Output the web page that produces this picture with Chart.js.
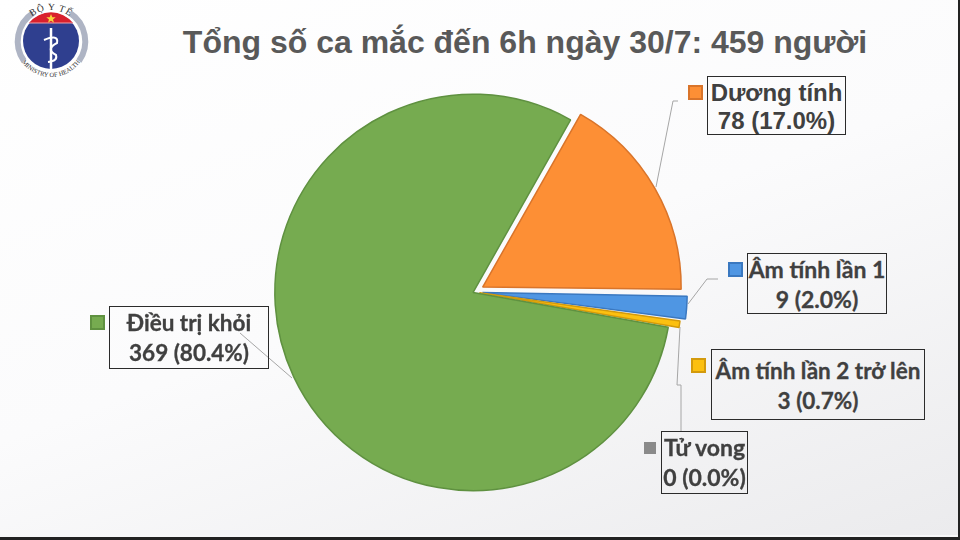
<!DOCTYPE html>
<html>
<head>
<meta charset="utf-8">
<style>
  html, body { margin: 0; padding: 0; }
  body { width: 960px; height: 540px; overflow: hidden; position: relative;
    font-family: "Liberation Sans", sans-serif; background: #222; }
  #page { position: absolute; left: 0; top: 0; width: 958px; height: 537px; box-sizing: border-box;
    border-bottom: 2px solid #f7f7f8;
    background: linear-gradient(160deg, #ffffff 0%, #fbfbfc 50%, #ebebed 100%); }
  #wrap { position: absolute; left: 256px; top: 74px; width: 436px; height: 436px; }
  #title { position: absolute; left: 170px; top: 24px; width: 710px; text-align: center;
    font-size: 32px; font-weight: bold; color: #595959; white-space: nowrap; }
  .lbl { position: absolute; box-sizing: border-box; border: 1.5px solid #2b2b2b; text-align: center;
    font-family: Lato, "Liberation Sans", sans-serif; -webkit-text-stroke: 0.3px #404040;
    font-weight: bold; line-height: 30px; color: #404040; white-space: nowrap; }
  .lbl.first { font-family: "Liberation Sans", sans-serif; line-height: 28px; -webkit-text-stroke: 0; }
  .key { position: absolute; box-sizing: border-box; border: 2px solid; }
  #logo, #leaders { position: absolute; left: 0; top: 0; }
</style>
</head>
<body>
<div id="page"></div>
<svg id="logo" width="100" height="90">
  <defs>
    <path id="arcTop" d="M20 41 A31 31 0 0 1 82 41"/>
    <path id="arcBottom" d="M15 41 A36 36 0 0 0 87 41"/>
  </defs>
  <path d="M33 13 A34 34 0 0 0 24 61" fill="none" stroke="#aeb4c4" stroke-width="6"/>
  <path d="M70 13 A34 34 0 0 1 79 61" fill="none" stroke="#aeb4c4" stroke-width="6"/>
  <circle cx="51" cy="41" r="28" fill="#2f3f8f"/>
  <path d="M29 23 A28 28 0 0 1 73 23 Z" fill="#d9202c"/>
  <path d="M29 23 H73" stroke="#f0a0a8" stroke-width="1"/>
  <path d="M51 14 l1.3 3.2 3.4 0 -2.7 2.2 1 3.4 -3 -2 -3 2 1 -3.4 -2.7 -2.2 3.4 0 z" fill="#f7d33c"/>
  <path d="M51 28 V69" stroke="#fff" stroke-width="2.5"/>
  <path d="M44 40 Q59 34 57 43 Q45 49 56 55 Q58 61 48 62" fill="none" stroke="#fff" stroke-width="2"/>
  <text font-family="Liberation Serif" font-size="9.5" fill="#333" text-anchor="middle" letter-spacing="0.8"><textPath href="#arcTop" startOffset="50%">BỘ Y TẾ</textPath></text>
  <text font-family="Liberation Serif" font-size="6.5" fill="#333" text-anchor="middle"><textPath href="#arcBottom" startOffset="50%">MINISTRY OF HEALTH</textPath></text>
</svg>
<svg id="leaders" width="960" height="540"></svg>
<div id="title"></div>
<div id="wrap"><canvas id="pie"></canvas></div>
<script src="https://cdn.jsdelivr.net/npm/chart.js"></script>
<script>
const categories = ["Dương tính", "Âm tính lần 1", "Âm tính lần 2 trở lên", "Tử vong", "Điều trị khỏi"];
const cases = [78, 9, 3, 0, 369];
const percents = ["17.0%", "2.0%", "0.7%", "0.0%", "80.4%"];
const titleText = "Tổng số ca mắc đến 6h ngày 30/7: 459 người";

const fills = ["#fd8f35", "#4f96e3", "#fcc010", "#8a8a8a", "#76ab50"];
const edges = ["#d9742a", "#3a78c0", "#d39a0c", "#8a8a8a", "#5f9140"];
// chart.js moves an arc by offset / 4, thin arcs also grow by about that much
const offsets = [40, 34, 22, 0, 4];

// label box x, y, w, h, top padding, font size, then legend key x, y, size
const boxes = [
  [707, 76, 139, 59, 2, 24, 688, 85, 15],
  [747, 253, 140, 61, 0, 23, 728, 262, 15],
  [711, 349, 214, 71, 6, 22.5, 691, 358, 15],
  [661, 431, 87, 63, 0, 23, 644, 442, 12],
  [109, 306, 160, 63, 1, 22.5, 90, 315, 15],
];
const leaders = [
  "M678 101 H673 L656 187",
  "M718 279 H707 L688 304",
  "M680 327 L677 385 H681 V431",
  "M240 333 L292 378",
];

document.getElementById("title").textContent = titleText;

categories.forEach((c, i) => {
  const b = boxes[i];
  const d = document.createElement("div");
  d.className = i === 0 ? "lbl first" : "lbl";
  d.style.cssText = `left:${b[0]}px;top:${b[1]}px;width:${b[2]}px;height:${b[3]}px;padding-top:${b[4]}px;font-size:${b[5]}px`;
  d.innerHTML = `${c}<br>${cases[i]} (${percents[i]})`;
  document.body.appendChild(d);
  const k = document.createElement("div");
  k.className = "key";
  k.style.cssText = `left:${b[6]}px;top:${b[7]}px;width:${b[8]}px;height:${b[8]}px;background:${fills[i]};border-color:${edges[i]}`;
  document.body.appendChild(k);
});

document.getElementById("leaders").innerHTML = leaders
  .map((p) => `<path d="${p}" fill="none" stroke="#a6a6a6" stroke-width="1"/>`)
  .join("");

new Chart(document.getElementById("pie"), {
  type: "pie",
  data: {
    labels: categories,
    datasets: [{
      data: cases,
      backgroundColor: fills,
      borderColor: edges,
      borderWidth: 1.5,
      offset: offsets,
    }],
  },
  options: {
    responsive: true,
    maintainAspectRatio: false,
    animation: false,
    rotation: 29.5,
    layout: { padding: 0 },
    plugins: { legend: { display: false }, tooltip: { enabled: false } },
  },
});
</script>
</body>
</html>
